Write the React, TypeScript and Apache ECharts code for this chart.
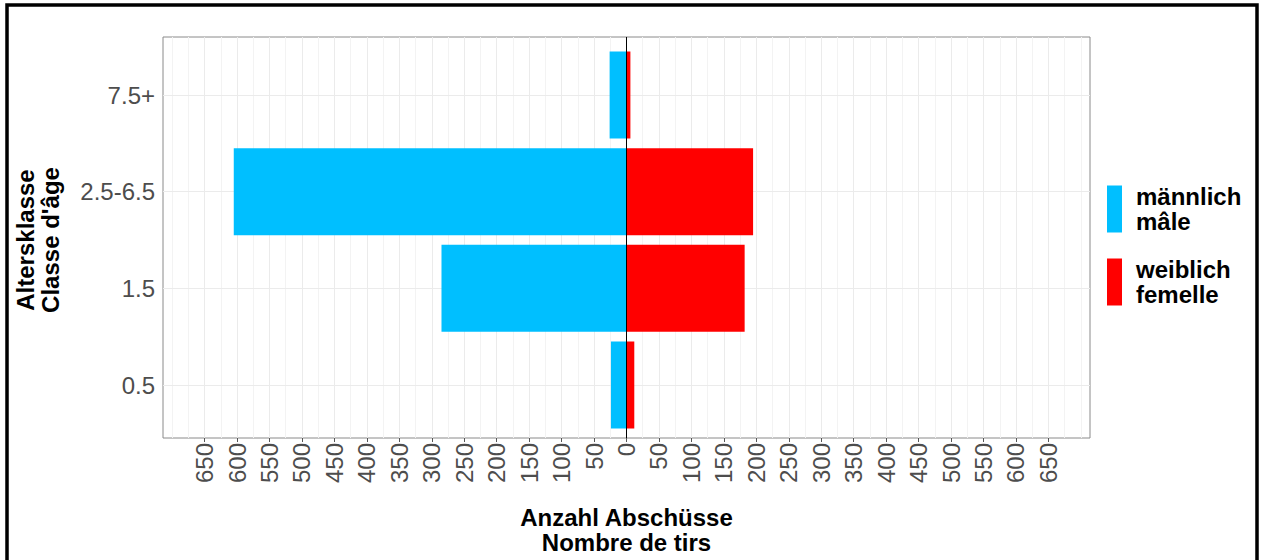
import React, { useEffect, useRef } from "react";
import * as echarts from "echarts";

// ---- data ----
const categories = ["0.5", "1.5", "2.5-6.5", "7.5+"];
const maleValues = [24, 285, 605, 26];
const femaleValues = [12, 182, 195, 6];
const seriesNames = ["männlich\nmâle", "weiblich\nfemelle"];
const xTicks = [
  -650, -600, -550, -500, -450, -400, -350, -300, -250, -200, -150, -100, -50, 0,
  50, 100, 150, 200, 250, 300, 350, 400, 450, 500, 550, 600, 650,
];
const xLimit = 714;
const xTitle = "Anzahl Abschüsse\nNombre de tirs";
const yTitle = "Altersklasse\nClasse d'âge";

const FONT = "'Liberation Sans', Arial, sans-serif";

export default function App() {
  const ref = useRef<HTMLDivElement>(null);

  useEffect(() => {
    if (!ref.current) return;
    const chart = echarts.init(ref.current, null, { renderer: "svg" });

    // minor grid positions: midpoints between major ticks, plus one step beyond
    const step = xTicks[1] - xTicks[0];
    const ext = [xTicks[0] - step, ...xTicks, xTicks[xTicks.length - 1] + step];
    const minor: number[] = [];
    for (let i = 0; i < ext.length - 1; i++) minor.push((ext[i] + ext[i + 1]) / 2);
    minor.push(ext[0], ext[ext.length - 1]);

    const panelLeft = 163;
    const panelTop = 37;
    const panelW = 927;
    const panelH = 406;
    const band = panelH / (categories.length + 0.2);
    const inset = band * 0.1;

    const option: any = {
      animation: false,
      textStyle: { fontFamily: FONT },
      graphic: [
        {
          type: "rect",
          shape: { x: 7, y: 5, width: 1250, height: 620 },
          style: { fill: "none", stroke: "#000", lineWidth: 3.5 },
          silent: true,
          z: 100,
        },
      ],
      legend: {
        orient: "vertical",
        left: 1107,
        top: 184,
        padding: 0,
        itemWidth: 15,
        itemHeight: 47,
        itemGap: 23,
        icon: "rect",
        selectedMode: false,
        data: seriesNames,
        textStyle: {
          fontFamily: FONT,
          fontSize: 24,
          fontWeight: "bold",
          color: "#000",
          lineHeight: 25,
          padding: [0, 0, 0, 9],
        },
      },
      grid: [
        {
          left: panelLeft,
          top: panelTop,
          width: panelW,
          height: panelH,
          show: true,
          borderColor: "#8a8a8a",
          borderWidth: 1,
          backgroundColor: "transparent",
        },
        {
          left: panelLeft,
          top: panelTop + inset,
          width: panelW,
          height: panelH - 2 * inset,
          show: false,
        },
      ],
      xAxis: [
        {
          type: "value",
          gridIndex: 0,
          min: -xLimit,
          max: xLimit,
          axisLine: { show: false, onZero: false },
          splitLine: { show: false },
          axisTick: {
            show: true,
            length: 4,
            customValues: xTicks,
            lineStyle: { color: "#555" },
          },
          axisLabel: {
            customValues: xTicks,
            rotate: 90,
            margin: 5,
            fontSize: 24,
            fontFamily: FONT,
            color: "#4D4D4D",
            formatter: (v: number) => String(Math.abs(v)),
          },
          name: xTitle,
          nameLocation: "middle",
          nameGap: 67,
          nameTextStyle: {
            fontFamily: FONT,
            fontSize: 24,
            fontWeight: "bold",
            color: "#000",
            lineHeight: 25,
          },
        },
        {
          type: "value",
          gridIndex: 1,
          min: -xLimit,
          max: xLimit,
          show: false,
          splitLine: { show: false },
        },
      ],
      yAxis: [
        {
          type: "value",
          gridIndex: 0,
          min: 0,
          max: 1,
          show: false,
          splitLine: { show: false },
        },
        {
          type: "category",
          gridIndex: 1,
          data: categories,
          axisLine: { show: false },
          splitLine: { show: false },
          axisTick: {
            show: true,
            alignWithLabel: true,
            length: 4,
            lineStyle: { color: "#555" },
          },
          axisLabel: {
            margin: 8,
            fontSize: 24,
            fontFamily: FONT,
            color: "#4D4D4D",
          },
          name: yTitle,
          nameLocation: "middle",
          nameRotate: 90,
          nameGap: 100,
          nameTextStyle: {
            fontFamily: FONT,
            fontSize: 24,
            fontWeight: "bold",
            color: "#000",
            lineHeight: 25,
          },
        },
      ],
      series: [
        {
          name: "gridV",
          type: "line",
          xAxisIndex: 0,
          yAxisIndex: 0,
          data: [],
          z: 1,
          silent: true,
          markLine: {
            silent: true,
            symbol: "none",
            z: 1,
            label: { show: false },
            emphasis: { disabled: true },
            data: [
              ...minor.map((v) => ({
                xAxis: v,
                lineStyle: { color: "#F3F3F3", width: 1, type: "solid" },
              })),
              ...xTicks.map((v) => ({
                xAxis: v,
                lineStyle: { color: "#EBEBEB", width: 1, type: "solid" },
              })),
            ],
          },
        },
        {
          name: "gridH",
          type: "line",
          xAxisIndex: 1,
          yAxisIndex: 1,
          data: [],
          z: 1,
          silent: true,
          markLine: {
            silent: true,
            symbol: "none",
            z: 1,
            label: { show: false },
            emphasis: { disabled: true },
            data: categories.map((c) => ({
              yAxis: c,
              lineStyle: { color: "#EBEBEB", width: 1, type: "solid" },
            })),
          },
        },
        {
          name: seriesNames[0],
          type: "bar",
          xAxisIndex: 1,
          yAxisIndex: 1,
          data: maleValues.map((v) => -v),
          barGap: "-100%",
          barCategoryGap: "10%",
          itemStyle: { color: "#00BFFF" },
          z: 2,
          silent: true,
        },
        {
          name: seriesNames[1],
          type: "bar",
          xAxisIndex: 1,
          yAxisIndex: 1,
          data: femaleValues,
          barGap: "-100%",
          barCategoryGap: "10%",
          itemStyle: { color: "#FF0000" },
          z: 2,
          silent: true,
        },
        {
          name: "zero",
          type: "line",
          xAxisIndex: 0,
          yAxisIndex: 0,
          data: [],
          z: 5,
          silent: true,
          markLine: {
            silent: true,
            symbol: "none",
            z: 5,
            label: { show: false },
            emphasis: { disabled: true },
            data: [{ xAxis: 0, lineStyle: { color: "#000", width: 1, type: "solid" } }],
          },
        },
      ],
    };

    chart.setOption(option);
    return () => chart.dispose();
  }, []);

  return (
    <div
      ref={ref}
      style={{ position: "absolute", left: 0, top: 0, width: 1263, height: 560, background: "#fff" }}
    />
  );
}
